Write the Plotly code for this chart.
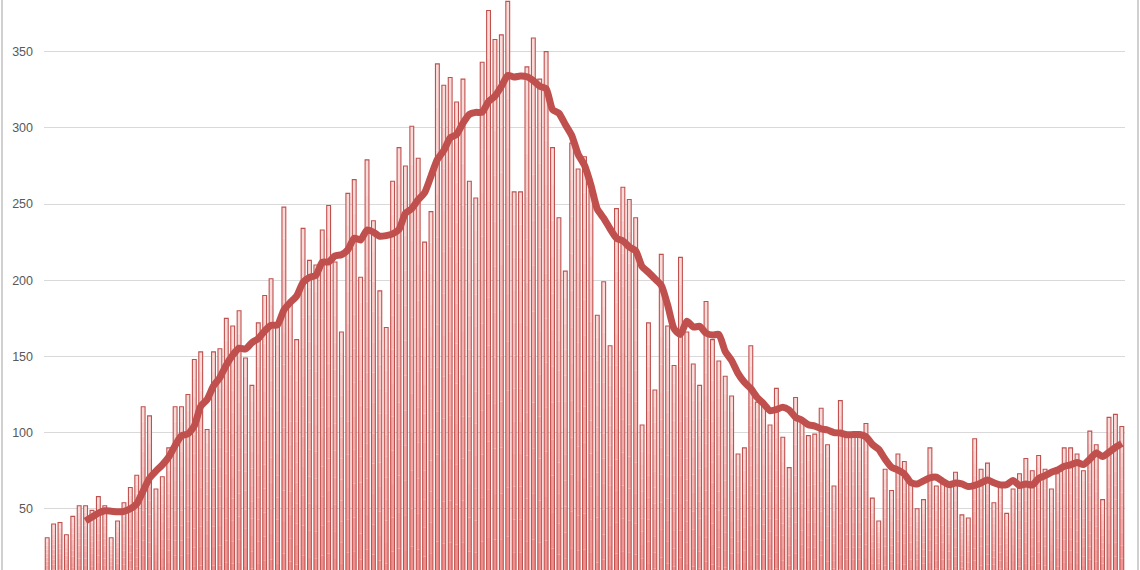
import plotly.graph_objects as go
import pandas as pd

days = list(range(1, 170))
cases = [
    31, 40, 41, 33, 45, 52, 52, 49, 58, 52,
    31, 42, 54, 64, 72, 117, 111, 63, 71, 90,
    117, 117, 125, 148, 153, 102, 153, 155, 175, 170,
    180, 149, 131, 172, 190, 201, 172, 248, 184, 161,
    234, 213, 210, 233, 249, 212, 166, 257, 266, 202,
    279, 239, 193, 169, 265, 287, 275, 301, 280, 225,
    245, 342, 328, 333, 317, 332, 265, 254, 343, 377,
    358, 361, 383, 258, 258, 340, 359, 332, 350, 287,
    241, 206, 290, 273, 281, 259, 177, 199, 157, 247,
    261, 253, 241, 105, 172, 128, 217, 170, 144, 215,
    166, 145, 131, 186, 161, 147, 137, 124, 86, 90,
    157, 120, 119, 105, 129, 97, 77, 123, 107, 98,
    99, 116, 92, 65, 121, 99, 99, 99, 106, 57,
    42, 76, 62, 86, 81, 67, 50, 56, 90, 65,
    67, 66, 74, 46, 44, 96, 76, 80, 54, 64,
    47, 63, 73, 83, 75, 85, 76, 63, 73, 90,
    90, 86, 75, 101, 92, 56, 110, 112, 104,
]
y_ticks = [50, 100, 150, 200, 250, 300, 350]
ma_window = 7

# 7-day moving average trendline
avg = pd.Series(cases).rolling(ma_window).mean()

RED = "#c0504d"
TOP = (249, 222, 221)
BOTTOM = (239, 140, 138)
K = 12
BW = 0.6

fig = go.Figure()

# per-bar vertical gradient fill, drawn as stacked slices of each bar
for k in range(K):
    f = (k + 0.5) / K
    c = tuple(round(BOTTOM[j] + (TOP[j] - BOTTOM[j]) * f) for j in range(3))
    fig.add_trace(go.Bar(
        x=days,
        y=[v / K for v in cases],
        base=[v * k / K for v in cases],
        width=BW,
        marker=dict(color="rgb(%d,%d,%d)" % c, line=dict(width=0)),
        hoverinfo="skip",
        showlegend=False,
    ))

# outlines
fig.add_trace(go.Bar(
    x=days, y=cases, width=BW,
    marker=dict(color="rgba(0,0,0,0)", line=dict(color=RED, width=1.1)),
    showlegend=False,
))

fig.add_trace(go.Scatter(
    x=days, y=avg, mode="lines",
    line=dict(color=RED, width=7, shape="spline", smoothing=0.6),
    showlegend=False,
))

L, R = 44, 15
W, H = 1140, 570
pw = W - L - R

fig.update_layout(
    width=W, height=H,
    margin=dict(l=L, r=R, t=0, b=0, pad=0),
    barmode="overlay",
    plot_bgcolor="white",
    paper_bgcolor="white",
    font=dict(family="Liberation Sans, Arial, sans-serif", size=12.5, color="#595959"),
    xaxis=dict(
        range=[0.5, 169.5],
        showticklabels=False, showgrid=False, zeroline=False, showline=False, ticks="",
    ),
    yaxis=dict(
        range=[9.84, 383.9],
        tickvals=y_ticks,
        showgrid=True, gridcolor="#d9d9d9", gridwidth=1,
        zeroline=False, showline=False, ticks="",
        ticklabelstandoff=10,
    ),
    shapes=[
        dict(type="line", xref="paper", yref="paper",
             x0=(2 - L) / pw, x1=(2 - L) / pw, y0=0, y1=1,
             line=dict(color="#d0d0d0", width=2)),
        dict(type="line", xref="paper", yref="paper",
             x0=(1138 - L) / pw, x1=(1138 - L) / pw, y0=0, y1=1,
             line=dict(color="#d0d0d0", width=2)),
    ],
)

fig.write_html(
    "out.html",
    config={"displayModeBar": False},
    post_script="document.body.style.margin='0';document.body.style.overflow='hidden';",
)
